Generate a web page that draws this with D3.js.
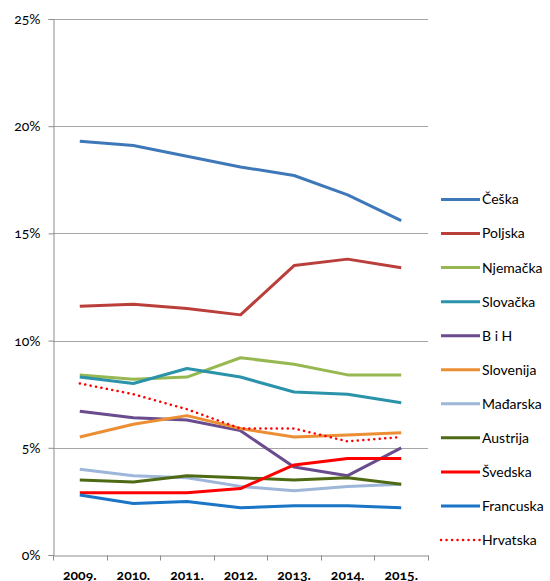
<!DOCTYPE html>
<html>
<head>
<meta charset="utf-8">
<script src="https://cdn.jsdelivr.net/npm/d3@7"></script>
<style>
  html, body { margin: 0; padding: 0; background: #fff; }
  svg text { font-family: Lato, "Open Sans", sans-serif; font-variant-numeric: oldstyle-nums; font-feature-settings: "onum" 1; fill: #000; }
</style>
</head>
<body>
<svg id="chart" width="550" height="581"></svg>
<script>
// Share by country, 2009–2015
const years = ["2009.", "2010.", "2011.", "2012.", "2013.", "2014.", "2015."];
const yTicks = [0, 5, 10, 15, 20, 25];

const ceska     = [19.3, 19.1, 18.6, 18.1, 17.7, 16.8, 15.6];
const poljska   = [11.6, 11.7, 11.5, 11.2, 13.5, 13.8, 13.4];
const njemacka  = [8.4, 8.2, 8.3, 9.2, 8.9, 8.4, 8.4];
const slovacka  = [8.3, 8.0, 8.7, 8.3, 7.6, 7.5, 7.1];
const bih       = [6.7, 6.4, 6.3, 5.8, 4.1, 3.7, 5.0];
const slovenija = [5.5, 6.1, 6.5, 5.9, 5.5, 5.6, 5.7];
const madarska  = [4.0, 3.7, 3.6, 3.2, 3.0, 3.2, 3.3];
const austrija  = [3.5, 3.4, 3.7, 3.6, 3.5, 3.6, 3.3];
const svedska   = [2.9, 2.9, 2.9, 3.1, 4.2, 4.5, 4.5];
const francuska = [2.8, 2.4, 2.5, 2.2, 2.3, 2.3, 2.2];
const hrvatska  = [8.0, 7.5, 6.8, 5.9, 5.9, 5.3, 5.5];

const series = [
  { name: "Češka",     values: ceska,     color: "#3F78B9" },
  { name: "Poljska",   values: poljska,   color: "#BA3F3A" },
  { name: "Njemačka",  values: njemacka,  color: "#97B850" },
  { name: "Slovačka",  values: slovacka,  color: "#2A93AA" },
  { name: "B i H",     values: bih,       color: "#6A4C8E" },
  { name: "Slovenija", values: slovenija, color: "#EC8F34" },
  { name: "Mađarska",  values: madarska,  color: "#9DB6DA" },
  { name: "Austrija",  values: austrija,  color: "#4F6A14" },
  { name: "Švedska",   values: svedska,   color: "#FF0000" },
  { name: "Francuska", values: francuska, color: "#1A75C6" },
  { name: "Hrvatska",  values: hrvatska,  color: "#FF0000", dotted: true }
];

const svg = d3.select("#chart");
const plot = { left: 53, right: 428, top: 19, bottom: 555 };

const x = d3.scaleBand().domain(years).range([plot.left, plot.right]);
const y = d3.scaleLinear().domain([0, 25]).range([plot.bottom, plot.top]);

// horizontal gridlines
svg.append("g")
  .selectAll("line")
  .data(yTicks.filter(d => d > 0))
  .join("line")
  .attr("x1", plot.left).attr("x2", plot.right)
  .attr("y1", d => Math.round(y(d)) + 0.5).attr("y2", d => Math.round(y(d)) + 0.5)
  .attr("stroke", "#a6a6a6").attr("stroke-width", 1);

// y axis
const yAxis = svg.append("g")
  .attr("transform", `translate(${plot.left + 0.5},0)`)
  .call(d3.axisLeft(y).tickValues(yTicks).tickFormat(d => d + "%").tickSize(5).tickPadding(8));
yAxis.select(".domain").attr("stroke", "#8c8c8c");
yAxis.selectAll(".tick line").attr("stroke", "#8c8c8c");
yAxis.selectAll(".tick text").attr("font-size", 14);

// x axis with ticks on category boundaries
const xAxis = svg.append("g")
  .attr("transform", `translate(0,${Math.round(y(0)) + 0.5})`)
  .call(d3.axisBottom(x).tickSize(0).tickPadding(15));
xAxis.select(".domain").attr("stroke", "#8c8c8c");
xAxis.selectAll(".tick text").attr("font-size", 14).attr("font-weight", "bold");
xAxis.selectAll(".boundary")
  .data(years.map(d => x(d)).concat([plot.right]))
  .join("line")
  .attr("class", "boundary")
  .attr("x1", d => Math.round(d) + 0.5).attr("x2", d => Math.round(d) + 0.5)
  .attr("y1", 0).attr("y2", 5)
  .attr("stroke", "#8c8c8c");

// series lines
const line = d3.line()
  .x((d, i) => x(years[i]) + x.bandwidth() / 2)
  .y(d => y(d));

svg.append("g")
  .selectAll("path")
  .data(series)
  .join("path")
  .attr("d", d => line(d.values))
  .attr("fill", "none")
  .attr("stroke", d => d.color)
  .attr("stroke-width", d => d.dotted ? 2.5 : 3)
  .attr("stroke-linejoin", "round")
  .attr("stroke-linecap", d => d.dotted ? "round" : "butt")
  .attr("stroke-dasharray", d => d.dotted ? "0.1,5.4" : null);

// legend
const legend = svg.append("g")
  .selectAll("g")
  .data(series)
  .join("g")
  .attr("transform", (d, i) => `translate(441,${199.5 + i * 34.05})`);

legend.append("line")
  .attr("x1", 0).attr("x2", 39)
  .attr("stroke", d => d.color)
  .attr("stroke-width", d => d.dotted ? 2.5 : 3)
  .attr("stroke-linecap", d => d.dotted ? "round" : "butt")
  .attr("stroke-dasharray", d => d.dotted ? "0.1,5.4" : null);

legend.append("text")
  .attr("x", 41)
  .attr("dy", "0.35em")
  .attr("font-size", 14)
  .text(d => d.name);
</script>
</body>
</html>
